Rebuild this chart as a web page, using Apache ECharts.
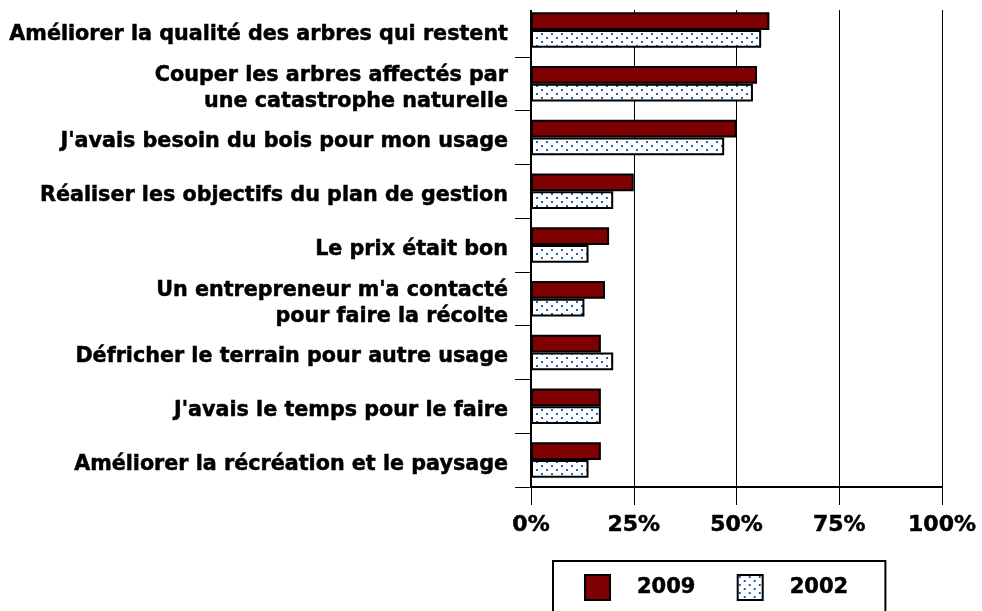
<!DOCTYPE html>
<html>
<head>
<meta charset="utf-8">
<script src="https://cdn.jsdelivr.net/npm/echarts@6/dist/echarts.min.js"></script>
<style>
html,body{margin:0;padding:0;background:#fff;}
#chart{width:982px;height:611px;}
</style>
</head>
<body>
<div id="chart"></div>
<script>
var categories = [
  "Améliorer la qualité des arbres qui restent",
  "Couper les arbres affectés par\nune catastrophe naturelle",
  "J'avais besoin du bois pour mon usage",
  "Réaliser les objectifs du plan de gestion",
  "Le prix était bon",
  "Un entrepreneur m'a contacté\npour faire la récolte",
  "Défricher le terrain pour autre usage",
  "J'avais le temps pour le faire",
  "Améliorer la récréation et le paysage"
];
var values2009 = [58, 55, 50, 25, 19, 18, 17, 17, 17];
var values2002 = [56, 54, 47, 20, 14, 13, 20, 17, 14];
var seriesNames = ["2009", "2002"];
var xTicks = [0, 25, 50, 75, 100];

function dotPattern() {
  var c = document.createElement('canvas');
  c.width = 10; c.height = 8;
  var ctx = c.getContext('2d');
  ctx.fillStyle = '#ffffff';
  ctx.fillRect(0, 0, 10, 8);
  ctx.fillStyle = '#1f62b4';
  ctx.fillRect(1, 1, 2, 2);
  ctx.fillRect(6, 5, 2, 2);
  return c;
}

var chart = echarts.init(document.getElementById('chart'), null, {renderer: 'canvas'});
var font = 'DejaVu Sans, Verdana, sans-serif';
var labelStyle = {
  color: '#000', fontFamily: font, fontWeight: 'bold', fontSize: 20.7,
  textBorderColor: '#000', textBorderWidth: 0.5, lineHeight: 26, align: 'right'
};
var option = {
  animation: false,
  backgroundColor: '#ffffff',
  grid: {left: 531, right: 40, top: 3, bottom: 124, containLabel: false},
  xAxis: {
    type: 'value',
    min: 0, max: 100, interval: 25,
    axisLine: {show: true, lineStyle: {color: '#000', width: 2}},
    axisTick: {show: true, length: 18, lineStyle: {color: '#000', width: 1}},
    splitLine: {show: true, lineStyle: {color: '#000', width: 1}},
    axisLabel: {
      margin: 27,
      color: '#000', fontFamily: font, fontWeight: 'bold', fontSize: 22,
      textBorderColor: '#000', textBorderWidth: 0.5,
      formatter: function (v) { return xTicks.indexOf(v) >= 0 ? v + '%' : ''; }
    }
  },
  yAxis: {
    type: 'category',
    inverse: true,
    data: categories,
    axisLine: {show: true, lineStyle: {color: '#000', width: 2}},
    axisTick: {show: true, length: 16, lineStyle: {color: '#000', width: 1}},
    axisLabel: {
      margin: 23,
      align: 'right',
      formatter: function (v) {
        var lines = v.split('\n');
        return lines.map(function (l, i) { return '{' + (i === 0 ? 'f' : 'n') + '|' + l + '}'; }).join('\n');
      },
      rich: {
        f: Object.assign({}, labelStyle, {padding: [9, 0, 0, 0]}),
        n: Object.assign({}, labelStyle, {padding: [10, 0, 0, 0]})
      }
    }
  },
  legend: {
    left: 553, top: 561,
    data: seriesNames,
    orient: 'horizontal',
    itemWidth: 25, itemHeight: 25,
    itemGap: 41,
    padding: [13, 37, 30, 31],
    borderColor: '#000', borderWidth: 2,
    icon: 'rect',
    textStyle: {color: '#000', fontFamily: font, fontWeight: 'bold', fontSize: 21, padding: [0, 0, 0, 22],
      textBorderColor: '#000', textBorderWidth: 0.5}
  },
  graphic: [{
    type: 'rect', z: 100, silent: true,
    shape: {x: 505, y: 0, width: 477, height: 10},
    style: {fill: '#ffffff'}
  }],
  series: [
    {
      name: seriesNames[0], type: 'bar', data: values2009,
      barGap: '0%', barCategoryGap: '34%',
      itemStyle: {color: '#7f0000', borderColor: '#000', borderWidth: 2}
    },
    {
      name: seriesNames[1], type: 'bar', data: values2002,
      barGap: '0%', barCategoryGap: '34%',
      itemStyle: {color: {image: dotPattern(), repeat: 'repeat'}, borderColor: '#000', borderWidth: 2}
    }
  ]
};
chart.setOption(option);
</script>
</body>
</html>
